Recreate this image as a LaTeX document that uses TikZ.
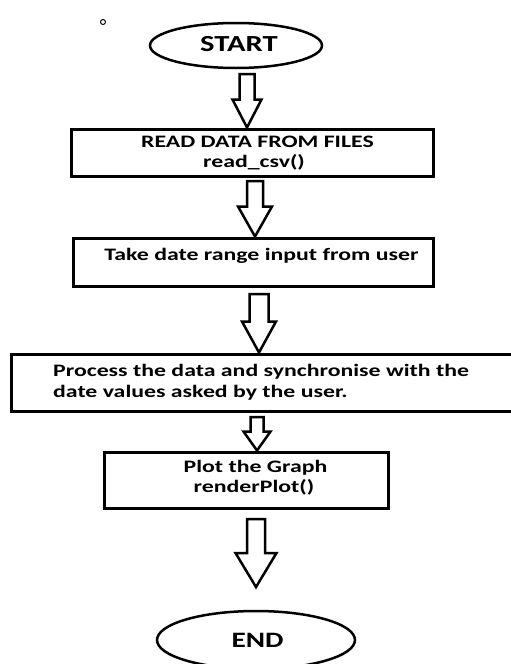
\documentclass[tikz,border=0pt]{standalone}
\usepackage{fontspec}
\newfontfamily\cb[FakeStretch=1.36]{Carlito}
\newfontfamily\cbt[FakeStretch=1.33]{Carlito}
\usetikzlibrary{shapes.geometric,calc}
\begin{document}
\begin{tikzpicture}[x=1pt,y=-1pt,line join=miter]
\tikzset{
  txt/.style={font=\cb\bfseries\fontsize{17.5}{21}\selectfont, inner sep=0pt, text=black},
  big/.style={font=\cbt\bfseries\fontsize{23}{26}\selectfont, inner sep=0pt, text=black},
  terminal/.style={draw, ellipse, line width=2.5pt, inner sep=0pt},
  box/.style={draw, rectangle, line width=3pt, inner sep=0pt},
  arr/.style={draw, line width=2.5pt, fill=white},
  barrow/.style n args={3}{to path={let \p1=(\tikztostart), \p2=(\tikztotarget) in
     (\x1-#1pt,\y1) -- (\x1-#1pt,\y2+#3pt) -- (\x1-#2pt,\y2+#3pt) -- (\x1,\y2)
     -- (\x1+#2pt,\y2+#3pt) -- (\x1+#1pt,\y2+#3pt) -- (\x1+#1pt,\y1) -- cycle}}
}
\useasboundingbox (0,0) rectangle (511,664);
\fill[white] (0,0) rectangle (511,664);

% small dot
\node[draw, circle, line width=1pt, minimum size=5pt, inner sep=0pt] (dot) at (103,22) {};

% shapes
\node[terminal, minimum width=172pt, minimum height=45pt] (start) at (236,45.5) {};
\node[box, minimum width=362pt, minimum height=47pt] (b1) at (252,152.5) {};
\node[box, minimum width=360pt, minimum height=48pt] (b2) at (253,262) {};
\node[box, minimum width=509pt, minimum height=57pt] (b3) at (265.5,382.5) {};
\node[box, minimum width=284pt, minimum height=56pt] (b4) at (246,480) {};
\node[terminal, minimum width=198pt, minimum height=58pt] (end) at (256,640) {};

% texts
\node[big, anchor=base] (t0) at (239,51) {START};
\node[txt, anchor=base] (t1a) at (257.5,147.5) {READ DATA FROM FILES};
\node[txt, anchor=base] (t1b) at (254,167) {read\_csv()};
\node[txt, anchor=base] (t2) at (261.5,260.5) {Take date range input from user};
\node[txt, anchor=base west] (t3a) at (53,376) {Process the data and synchronise with the};
\node[txt, anchor=base west] (t3b) at (53,397.5) {date values asked by the user.};
\node[txt, anchor=base] (t4a) at (255.5,472) {Plot the Graph};
\node[txt, anchor=base] (t4b) at (254,492.5) {renderPlot()};
\node[big, anchor=base, font=\cbt\bfseries\fontsize{22}{26}\selectfont] (te) at (257.5,647) {END};

% block arrows
\coordinate (a1) at (247,74);
\coordinate (a2) at (255,181);
\coordinate (a3) at (259,294);
\coordinate (a4) at (257,417);
\coordinate (a5) at (256,519);
\coordinate (a5tip) at (256,587);
\path[arr, barrow={7.5}{14.5}{28}] (a1) to (a1 |- b1.north);
\path[arr, barrow={8}{17}{30}] (a2) to (a2 |- b2.north);
\path[arr, barrow={9.5}{17}{31}] (a3) to (a3 |- b3.north);
\path[arr, barrow={6.5}{13.5}{19}] (a4) to (a4 |- b4.north);
\path[arr, barrow={9}{20.5}{34}] (a5) to (a5tip);
\end{tikzpicture}
\end{document}
